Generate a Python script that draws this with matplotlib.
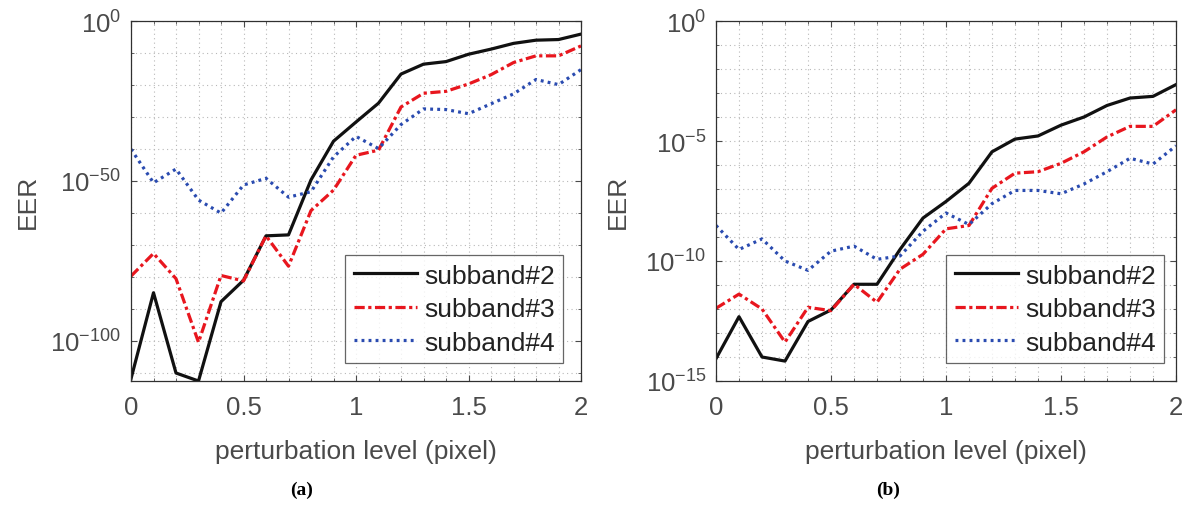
import numpy as np
import matplotlib
matplotlib.use('Agg')
from matplotlib import pyplot as plt
from matplotlib.ticker import FixedLocator, FuncFormatter, MultipleLocator

plt.rcParams['font.family'] = ['Liberation Sans', 'DejaVu Sans']
plt.rcParams['mathtext.fontset'] = 'custom'
plt.rcParams['mathtext.rm'] = 'Liberation Sans'
plt.rcParams['mathtext.it'] = 'Liberation Sans:italic'

# perturbation levels (pixel)
levels = [0.0, 0.1, 0.2, 0.3, 0.4, 0.5, 0.6, 0.7, 0.8, 0.9, 1.0,
          1.1, 1.2, 1.3, 1.4, 1.5, 1.6, 1.7, 1.8, 1.9, 2.0]

# EER, given as log10 exponents
a_sub2 = [-111.9, -85.0, -110.1, -112.6, -87.8, -81.1, -67.2, -66.9, -49.7, -37.6, -31.6,
          -25.7, -16.6, -13.5, -12.7, -10.4, -8.8, -7.0, -6.0, -5.8, -4.1]
a_sub3 = [-79.8, -72.7, -80.6, -100.5, -79.6, -81.3, -67.2, -76.7, -59.3, -52.9, -42.0,
          -40.4, -26.9, -22.6, -22.0, -19.7, -16.8, -13.0, -10.9, -10.9, -7.8]
a_sub4 = [-40.1, -50.6, -46.3, -56.0, -60.1, -51.3, -49.2, -55.1, -53.4, -42.5, -36.1,
          -39.9, -32.4, -27.5, -27.7, -29.0, -25.9, -22.8, -18.3, -19.9, -15.2]

b_sub2 = [-14.07, -12.32, -14.0, -14.17, -12.52, -12.04, -10.97, -10.97, -9.52, -8.21, -7.52,
          -6.76, -5.45, -4.92, -4.79, -4.34, -4.0, -3.52, -3.21, -3.14, -2.65]
b_sub3 = [-11.97, -11.38, -12.0, -13.38, -11.93, -12.07, -10.97, -11.72, -10.34, -9.72, -8.66,
          -8.52, -6.97, -6.34, -6.28, -5.93, -5.45, -4.83, -4.39, -4.39, -3.70]
b_sub4 = [-8.52, -9.52, -9.08, -10.0, -10.39, -9.59, -9.38, -9.93, -9.79, -8.76, -8.0,
          -8.48, -7.61, -7.06, -7.06, -7.2, -6.79, -6.28, -5.72, -5.96, -5.2]

names = ['subband#2', 'subband#3', 'subband#4']
styles = [('-', '#111111'), ((0, (3.2, 1.1, 1.0, 1.1)), '#e8161e'), ((0, (0.9, 1.3)), '#2a4bb0')]
txt_col = '#4a4a4a'

W, H = 1194, 506


def exp_label(v, pos):
    if v <= 0:
        return ''
    return r'$10^{%d}$' % int(round(np.log10(v)))


def make_panel(ax, series, ylow, major, minor, ylab_x, leg_x):
    for s, name, (ls, col) in zip(series, names, styles):
        ax.plot(levels, 10.0 ** np.array(s), ls=ls, color=col, lw=2.3, label=name)
    ax.set_yscale('log')
    ax.set_xlim(0, 2)
    ax.set_ylim(10.0 ** ylow, 1)
    ax.xaxis.set_major_locator(MultipleLocator(0.5))
    ax.xaxis.set_minor_locator(MultipleLocator(0.1))
    ax.xaxis.set_major_formatter(FuncFormatter(lambda v, p: '%g' % v))
    ax.yaxis.set_major_locator(FixedLocator(10.0 ** np.array(major, dtype=float)))
    ax.yaxis.set_minor_locator(FixedLocator(10.0 ** np.array(minor, dtype=float)))
    ax.yaxis.set_major_formatter(FuncFormatter(exp_label))
    ax.yaxis.set_minor_formatter(FuncFormatter(lambda v, p: ''))
    ax.grid(True, which='both', ls=(0, (1, 3)), color='#b8b8b8', lw=0.8)
    ax.tick_params(which='both', direction='in', top=True, right=True,
                   colors=txt_col, labelsize=18.5, length=4)
    ax.tick_params(which='minor', length=2)
    ax.tick_params(axis='x', pad=10)
    ax.tick_params(axis='y', pad=7)
    for sp in ax.spines.values():
        sp.set_color('#303030')
        sp.set_linewidth(0.9)
    ax.set_xlabel('perturbation level (pixel)', fontsize=19, color=txt_col)
    ax.xaxis.set_label_coords(0.5, -70 / 360)
    ax.xaxis.label.set_va('center')
    ax.set_ylabel('EER', fontsize=19, color=txt_col)
    ax.yaxis.set_label_coords(ylab_x, 0.5)
    ax.yaxis.label.set_va('center')
    leg = ax.legend(loc='lower right', fontsize=19, handlelength=2.4, handletextpad=0.25,
                    borderpad=0.32, labelspacing=0.36, fancybox=False,
                    bbox_to_anchor=(leg_x, 0.05), borderaxespad=0)
    leg.get_frame().set_edgecolor('#404040')
    leg.get_frame().set_linewidth(0.9)
    for t in leg.get_texts():
        t.set_color('#222222')


fig = plt.figure(figsize=(W / 100, H / 100), dpi=100)
ax1 = fig.add_axes([131 / W, 1 - 382 / H, 450 / W, 360 / H])
ax2 = fig.add_axes([716 / W, 1 - 382 / H, 460 / W, 360 / H])

make_panel(ax1, [a_sub2, a_sub3, a_sub4], -112.6, [0, -50, -100],
           list(range(0, -113, -10)), (28 - 131) / 450, (563 - 131) / 450)
make_panel(ax2, [b_sub2, b_sub3, b_sub4], -15, [0, -5, -10, -15],
           list(range(0, -16, -1)), (618 - 716) / 460, (1164 - 716) / 460)

fig.text(302 / W, 1 - 490 / H, '(a)', ha='center', va='center', fontsize=14,
         fontweight='bold', family='Liberation Serif')
fig.text(888 / W, 1 - 490 / H, '(b)', ha='center', va='center', fontsize=14,
         fontweight='bold', family='Liberation Serif')

fig.savefig('out.png', dpi=100)
